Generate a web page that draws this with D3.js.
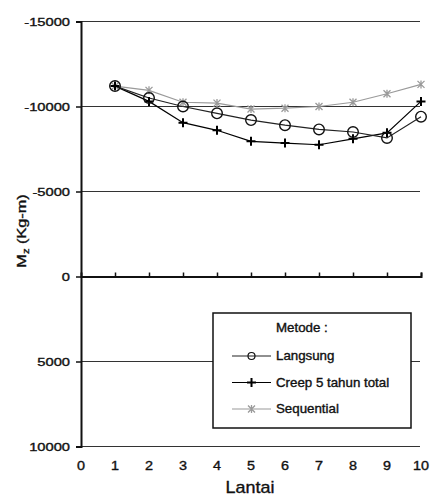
<!DOCTYPE html>
<html>
<head>
<meta charset="utf-8">
<script src="https://cdn.jsdelivr.net/npm/d3@7"></script>
<style>
  html, body { margin: 0; padding: 0; background: #fff; }
  svg { display: block; }
  text { font-family: "Liberation Sans", Arial, sans-serif; fill: #111; stroke: #111; stroke-width: 0.35px; }
</style>
</head>
<body>
<svg id="chart" width="430" height="496"></svg>
<script>
// Floor numbers (Lantai) and bending moment Mz (Kg-m) per method
const floors = [1, 2, 3, 4, 5, 6, 7, 8, 9, 10];
const langsung = [-11200, -10500, -10000, -9600, -9200, -8900, -8650, -8500, -8150, -9400];
const creep = [-11200, -10300, -9050, -8600, -7950, -7850, -7750, -8100, -8450, -10300];
const sequential = [-11200, -10950, -10250, -10200, -9850, -9900, -10000, -10250, -10750, -11300];

const yTicks = [-15000, -10000, -5000, 0, 5000, 10000];
const xTicks = [0, 1, 2, 3, 4, 5, 6, 7, 8, 9, 10];
const legendTitle = "Metode :";
const seriesNames = ["Langsung", "Creep 5 tahun total", "Sequential"];

const svg = d3.select("#chart");
const x = d3.scaleLinear().domain([0, 10]).range([81, 421]);
const y = d3.scaleLinear().domain([-15000, 10000]).range([21.5, 446.5]);

// widen glyphs horizontally, keeping the anchor point in place
function widen(sel, k) {
  sel.each(function () {
    const t = d3.select(this);
    const x0 = +(t.attr("x") || 0);
    t.attr("x", x0 / k).attr("transform", `scale(${k},1)`);
  });
}

// horizontal grid lines
svg.append("g").selectAll("line")
  .data(yTicks.filter(v => v !== 0))
  .join("line")
  .attr("x1", x(0)).attr("x2", 420)
  .attr("y1", d => y(d)).attr("y2", d => y(d))
  .attr("stroke", "#333").attr("stroke-width", 1.2);

// y axis
const yAxis = svg.append("g")
  .attr("transform", `translate(${x(0)},0)`)
  .call(d3.axisLeft(y).tickValues(yTicks).tickSize(5).tickPadding(6).tickFormat(d => String(d)));
yAxis.select(".domain").attr("stroke", "#111").attr("stroke-width", 2);
yAxis.selectAll(".tick line").attr("stroke", "#111").attr("stroke-width", 1.5);
yAxis.selectAll(".tick text").style("font-size", "11.5px").attr("fill", "#111");
widen(yAxis.selectAll(".tick text"), 1.28);

// zero line with upward ticks
const zeroAxis = svg.append("g")
  .attr("transform", `translate(0,${y(0)})`)
  .call(d3.axisBottom(x).tickValues(xTicks.filter(v => v > 0)).tickSize(-4).tickFormat(""));
zeroAxis.select(".domain").attr("stroke", "#111").attr("stroke-width", 2);
zeroAxis.selectAll(".tick line").attr("stroke", "#111").attr("stroke-width", 1.5);

// x tick labels along the bottom
const xLab = svg.append("g");
xLab.selectAll("text")
  .data(xTicks)
  .join("text")
  .attr("x", d => x(d)).attr("y", 470.5)
  .attr("text-anchor", "middle")
  .style("font-size", "12px")
  .text(d => d);
widen(xLab.selectAll("text"), 1.2);

// axis titles
const xTitle = svg.append("text")
  .attr("x", 250).attr("y", 493.5)
  .attr("text-anchor", "middle")
  .style("font-size", "16px")
  .text("Lantai");
widen(xTitle, 1.12);

const yTitle = svg.append("text")
  .attr("transform", "translate(26,231) rotate(-90) scale(1.25,1)")
  .attr("text-anchor", "middle")
  .style("font-size", "13px");
yTitle.append("tspan").text("M");
yTitle.append("tspan").attr("dy", 3).style("font-size", "9px").text("z");
yTitle.append("tspan").attr("dy", -3).text(" (Kg-m)");

// series
const line = d3.line().x((d, i) => x(floors[i])).y(d => y(d));
const series = [
  { name: seriesNames[0], values: langsung, color: "#222", marker: "circle" },
  { name: seriesNames[1], values: creep, color: "#000", marker: "plus" },
  { name: seriesNames[2], values: sequential, color: "#9a9a9a", marker: "star" }
];

function drawMarker(g, type, cx, cy, color) {
  if (type === "circle") {
    g.append("circle").attr("cx", cx).attr("cy", cy).attr("r", 5.3)
      .attr("fill", "none").attr("stroke", "#111").attr("stroke-width", 1.4);
  } else if (type === "plus") {
    g.append("path")
      .attr("d", `M${cx - 4.5},${cy}H${cx + 4.5}M${cx},${cy - 4.5}V${cy + 4.5}`)
      .attr("stroke", "#000").attr("stroke-width", 2);
  } else {
    g.append("path")
      .attr("d", `M${cx - 3.5},${cy - 3.5}L${cx + 3.5},${cy + 3.5}M${cx - 3.5},${cy + 3.5}L${cx + 3.5},${cy - 3.5}M${cx},${cy - 4}V${cy + 4}`)
      .attr("stroke", color).attr("stroke-width", 1.3);
  }
}

const plot = svg.append("g");
series.slice().reverse().forEach(s => {
  plot.append("path")
    .datum(s.values)
    .attr("d", line)
    .attr("fill", "none")
    .attr("stroke", s.color)
    .attr("stroke-width", 1.2);
});
series.slice().reverse().forEach(s => {
  const g = plot.append("g");
  s.values.forEach((v, i) => drawMarker(g, s.marker, x(floors[i]), y(v), s.color));
});

// legend
const lg = svg.append("g");
lg.append("rect")
  .attr("x", 213).attr("y", 313).attr("width", 198).attr("height", 115)
  .attr("fill", "#fff").attr("stroke", "#111").attr("stroke-width", 1.5);
const lt = lg.append("text").attr("x", 276).attr("y", 332).style("font-size", "12px").text(legendTitle);
widen(lt, 1.11);
series.forEach((s, i) => {
  const cy = 356 + i * 26.5;
  lg.append("line").attr("x1", 232).attr("x2", 271).attr("y1", cy).attr("y2", cy)
    .attr("stroke", s.color).attr("stroke-width", 1.2);
  const mg = lg.append("g");
  if (s.marker === "circle") {
    mg.append("circle").attr("cx", 251.5).attr("cy", cy).attr("r", 3.5)
      .attr("fill", "none").attr("stroke", "#111").attr("stroke-width", 1.2);
  } else {
    drawMarker(mg, s.marker, 251.5, cy, s.color);
  }
  const t = lg.append("text").attr("x", 276).attr("y", cy + 4.3).style("font-size", "12px").text(s.name);
  widen(t, 1.11);
});
</script>
</body>
</html>
